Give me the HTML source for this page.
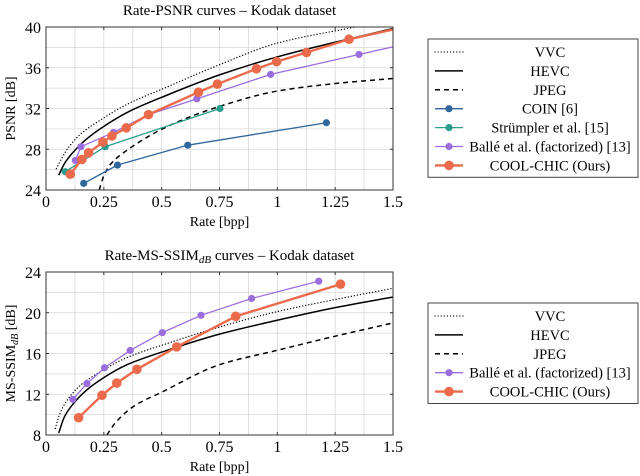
<!DOCTYPE html>
<html><head><meta charset="utf-8"><style>
body{margin:0;background:#fff;}
svg{display:block;font-family:"Liberation Serif",serif;}
</style></head><body>
<svg id="c" width="640" height="476" viewBox="0 0 640 476" xmlns="http://www.w3.org/2000/svg"></svg>
<script>
// ---- Top chart data (Rate-PSNR) ----
const xTicks = [0, 0.25, 0.5, 0.75, 1, 1.25, 1.5];
const xTickLabels = ["0", "0.25", "0.5", "0.75", "1", "1.25", "1.5"];
const psnrTicks = [24, 28, 32, 36, 40];
const vvcRate = [0.045, 0.07, 0.098, 0.15, 0.234, 0.35, 0.522, 0.75, 0.997, 1.335];
const vvcPsnr = [26.1, 27.2, 28.2, 29.5, 30.85, 32.4, 34.1, 36.3, 38.4, 40.0];
const hevcRate = [0.055, 0.08, 0.119, 0.17, 0.234, 0.35, 0.522, 0.75, 0.997, 1.5];
const hevcPsnr = [25.45, 26.6, 27.75, 28.9, 30.0, 31.6, 33.3, 35.3, 37.05, 39.85];
const jpegRate = [0.23, 0.25, 0.278, 0.35, 0.522, 0.75, 0.997, 1.25, 1.5];
const jpegPsnr = [24.0, 25.4, 26.5, 27.9, 30.2, 32.2, 33.7, 34.45, 34.95];
const coinRate = [0.163, 0.309, 0.613, 1.212];
const coinPsnr = [24.65, 26.45, 28.4, 30.6];
const strRate = [0.083, 0.256, 0.752];
const strPsnr = [25.8, 28.25, 32.0];
const balleRate = [0.127, 0.151, 0.292, 0.443, 0.652, 0.971, 1.353];
const ballePsnr = [26.9, 28.25, 29.65, 31.4, 32.95, 35.35, 37.3];
const coolRate = [0.105, 0.155, 0.184, 0.246, 0.285, 0.347, 0.443, 0.659, 0.741, 0.91, 0.997, 1.126, 1.31];
const coolPsnr = [25.55, 27.0, 27.65, 28.7, 29.3, 30.1, 31.4, 33.6, 34.4, 35.9, 36.6, 37.5, 38.8];
// ---- Bottom chart data (Rate-MS-SSIM) ----
const ssimTicks = [8, 12, 16, 20, 24];
const vvcRate2 = [0.04, 0.06, 0.091, 0.15, 0.234, 0.35, 0.522, 0.75, 0.997, 1.25, 1.5];
const vvcSsim = [8.65, 10.1, 11.4, 12.9, 14.2, 15.6, 16.97, 18.6, 20.1, 21.3, 22.4];
const hevcRate2 = [0.055, 0.08, 0.119, 0.17, 0.234, 0.35, 0.522, 0.75, 0.997, 1.25, 1.5];
const hevcSsim = [8.2, 9.8, 11.1, 12.3, 13.4, 14.9, 16.3, 17.9, 19.25, 20.5, 21.55];
const jpegRate2 = [0.263, 0.3, 0.378, 0.5, 0.75, 0.997, 1.25, 1.5];
const jpegSsim = [8.0, 9.2, 10.8, 12.2, 14.9, 16.3, 17.7, 19.0];
const balleRate2 = [0.116, 0.177, 0.253, 0.364, 0.503, 0.67, 0.889, 1.179];
const balleSsim = [11.5, 13.05, 14.6, 16.3, 18.05, 19.75, 21.4, 23.1];
const coolRate2 = [0.141, 0.242, 0.306, 0.393, 0.565, 0.82, 1.273];
const coolSsim = [9.7, 11.9, 13.1, 14.45, 16.65, 19.65, 22.8];

const NS = "http://www.w3.org/2000/svg";
const svg = document.getElementById("c");
const C = {coin:"#30679c", str:"#2a9d8f", balle:"#9b6ee0", cool:"#ec6a4c"};
function mk(tag, attrs, parent){
  const e = document.createElementNS(NS, tag);
  for (const k in attrs) e.setAttribute(k, attrs[k]);
  (parent||svg).appendChild(e);
  return e;
}
function smoothPath(pts){
  const n = pts.length;
  if (n<3) return "M"+pts.map(p=>p.join(",")).join("L");
  const dx=[], m=[];
  for (let i=0;i<n-1;i++){ dx.push(pts[i+1][0]-pts[i][0]); m.push((pts[i+1][1]-pts[i][1])/dx[i]); }
  const t=[m[0]];
  for (let i=1;i<n-1;i++){
    if (m[i-1]*m[i]<=0) t.push(0);
    else { const w1=2*dx[i]+dx[i-1], w2=dx[i]+2*dx[i-1]; t.push((w1+w2)/(w1/m[i-1]+w2/m[i])); }
  }
  t.push(m[n-2]);
  let d="M"+pts[0][0]+","+pts[0][1];
  for (let i=0;i<n-1;i++){
    const h=dx[i]/3;
    d+="C"+(pts[i][0]+h)+","+(pts[i][1]+t[i]*h)+" "+(pts[i+1][0]-h)+","+(pts[i+1][1]-t[i+1]*h)+" "+pts[i+1][0]+","+pts[i+1][1];
  }
  return d;
}
function chart(cfg){
  const g = mk("g", {});
  
  
  const L=46, R=393, T=cfg.top, B=cfg.bottom;
  const sx = v => L + (v-0)/(1.5-0)*(R-L);
  const sy = v => B - (v-cfg.ymin)/(cfg.ymax-cfg.ymin)*(B-T);
  const clipId = cfg.name+"-clip";
  const cp = mk("clipPath", {id:clipId}, g);
  mk("rect", {x:L, y:T, width:R-L, height:B-T}, cp);
  for (let v=0; v<=1.5001; v+=0.125){
    const gl = mk("line", {x1:sx(v), x2:sx(v), y1:T, y2:B, stroke:"#d8d8d8", "stroke-width":0.8}, g);
    
    
  }
  for (let v=cfg.ymin; v<=cfg.ymax; v+=2){
    const gl = mk("line", {x1:L, x2:R, y1:sy(v), y2:sy(v), stroke:"#d8d8d8", "stroke-width":0.8}, g);
    
    
  }
  const plot = mk("g", {"clip-path":"url(#"+clipId+")"}, g);
  cfg.series.forEach(s=>{
    const pts = s.x.map((v,i)=>[sx(v), sy(s.y[i])]);
    let d;
    if (s.smooth) d = smoothPath(pts);
    else d = "M"+pts.map(p=>p.join(",")).join("L");
    if (s.tail) d += "L"+sx(s.tail[0])+","+sy(s.tail[1]);
    const p = mk("path", {d:d, fill:"none", stroke:s.color, "stroke-width":s.w, "stroke-dasharray":s.dash||"none", "stroke-linecap":s.dash==="0.1,3"?"round":"butt"}, plot);
    
    
    if (s.marker){
      pts.forEach(pt=>{
        const c = mk("circle", {cx:pt[0], cy:pt[1], r:s.marker, fill:s.color}, plot);
        
        
      });
    }
  });
  mk("rect", {x:L, y:T, width:R-L, height:B-T, fill:"none", stroke:"#333", "stroke-width":1}, g);
  xTicks.forEach((v,i)=>{
    mk("line", {x1:sx(v), x2:sx(v), y1:B, y2:B-3, stroke:"#333"}, g);
    mk("line", {x1:sx(v), x2:sx(v), y1:T, y2:T+3, stroke:"#333"}, g);
    const t = mk("text", {x:sx(v), y:B+17, "text-anchor":"middle", "font-size":16}, g);
    t.textContent = xTickLabels[i];
    
    
  });
  cfg.yTicks.forEach(v=>{
    mk("line", {x1:L, x2:L+3, y1:sy(v), y2:sy(v), stroke:"#333"}, g);
    mk("line", {x1:R, x2:R-3, y1:sy(v), y2:sy(v), stroke:"#333"}, g);
    const t = mk("text", {x:L-5, y:sy(v)+6, "text-anchor":"end", "font-size":16}, g);
    t.textContent = v;
    
    
  });
  const xt = mk("text", {x:(L+R)/2, y:B+36, "text-anchor":"middle", "font-size":14}, g);
  xt.textContent = "Rate [bpp]";
  
  
  const yt = mk("text", {x:0, y:0, "text-anchor":"middle", "font-size":14, transform:"translate(15,"+((T+B)/2)+") rotate(-90)"}, g);
  yt.innerHTML = cfg.ytitle;
  
  
  const tt = mk("text", {x:(L+R)/2+10, y:T-12, "text-anchor":"middle", "font-size":15}, g);
  tt.innerHTML = cfg.title;
  
  
  const lg = mk("g", {}, g);
  
  
  const n = cfg.legend.length;
  mk("rect", {x:428, y:cfg.legTop, width:210, height:n*18.9+6, fill:"#fff", stroke:"#444", "stroke-width":1}, lg);
  cfg.legend.forEach((s,i)=>{
    const y = cfg.legTop+13+i*18.9;
    const e = mk("g", {}, lg);
    
    
    mk("line", {x1:435, x2:463, y1:y, y2:y, stroke:s.color, "stroke-width":s.lw||s.w, "stroke-dasharray":s.dash||"none", "stroke-linecap":s.dash==="0.1,3"?"round":"butt"}, e);
    if (s.marker) mk("circle", {cx:449, cy:y, r:s.marker, fill:s.color}, e);
    const t = mk("text", {x:550, y:y+5, "text-anchor":"middle", "font-size":14.5}, e);
    t.textContent = s.label;
  });
}
const vvc = {id:"vvc", color:"#000", w:1.3, dash:"0.1,3", smooth:true, label:"VVC", lw:1.2};
const hevc = {id:"hevc", color:"#000", w:1.5, smooth:true, label:"HEVC"};
const jpeg = {id:"jpeg", color:"#000", w:1.5, dash:"5,4", smooth:true, label:"JPEG"};
chart({name:"psnr-chart", top:27, bottom:190, ymin:24, ymax:40, yTicks:psnrTicks, legTop:39,
  title:"Rate-PSNR curves – Kodak dataset", ytitle:"PSNR [dB]",
  series:[
    Object.assign({x:vvcRate, y:vvcPsnr}, vvc),
    Object.assign({x:hevcRate, y:hevcPsnr}, hevc),
    Object.assign({x:jpegRate, y:jpegPsnr}, jpeg),
    {id:"coin", x:coinRate, y:coinPsnr, color:C.coin, w:1.3, marker:3.6, tail:null},
    {id:"strumpler", x:strRate, y:strPsnr, color:C.str, w:1.3, marker:3.6},
    {id:"balle", x:balleRate, y:ballePsnr, color:C.balle, w:1.3, marker:3.6, tail:[1.5,38.05]},
    {id:"coolchic", x:coolRate, y:coolPsnr, color:C.cool, w:2.4, marker:4.8, tail:[1.5,39.75]}
  ],
  legend:[vvc, hevc, jpeg,
    {label:"COIN [6]", color:C.coin, w:1.3, marker:3.6},
    {label:"Strümpler et al. [15]", color:C.str, w:1.3, marker:3.6},
    {label:"Ballé et al. (factorized) [13]", color:C.balle, w:1.3, marker:3.6},
    {label:"COOL-CHIC (Ours)", color:C.cool, w:2.4, marker:4.8}]
});
chart({name:"msssim-chart", top:272, bottom:435, ymin:8, ymax:24, yTicks:ssimTicks, legTop:303,
  title:"Rate-MS-SSIM<tspan font-style='italic' font-size='11' dy='3'>dB</tspan><tspan dy='-3'> curves – Kodak dataset</tspan>",
  ytitle:"MS-SSIM<tspan font-style='italic' font-size='10' dy='3'>dB</tspan><tspan dy='-3'> [dB]</tspan>",
  series:[
    Object.assign({x:vvcRate2, y:vvcSsim}, vvc),
    Object.assign({x:hevcRate2, y:hevcSsim}, hevc),
    Object.assign({x:jpegRate2, y:jpegSsim}, jpeg),
    {id:"balle", x:balleRate2, y:balleSsim, color:C.balle, w:1.3, marker:3.6},
    {id:"coolchic", x:coolRate2, y:coolSsim, color:C.cool, w:2.4, marker:4.8}
  ],
  legend:[vvc, hevc, jpeg,
    {label:"Ballé et al. (factorized) [13]", color:C.balle, w:1.3, marker:3.6},
    {label:"COOL-CHIC (Ours)", color:C.cool, w:2.4, marker:4.8}]
});
</script>
</body></html>
